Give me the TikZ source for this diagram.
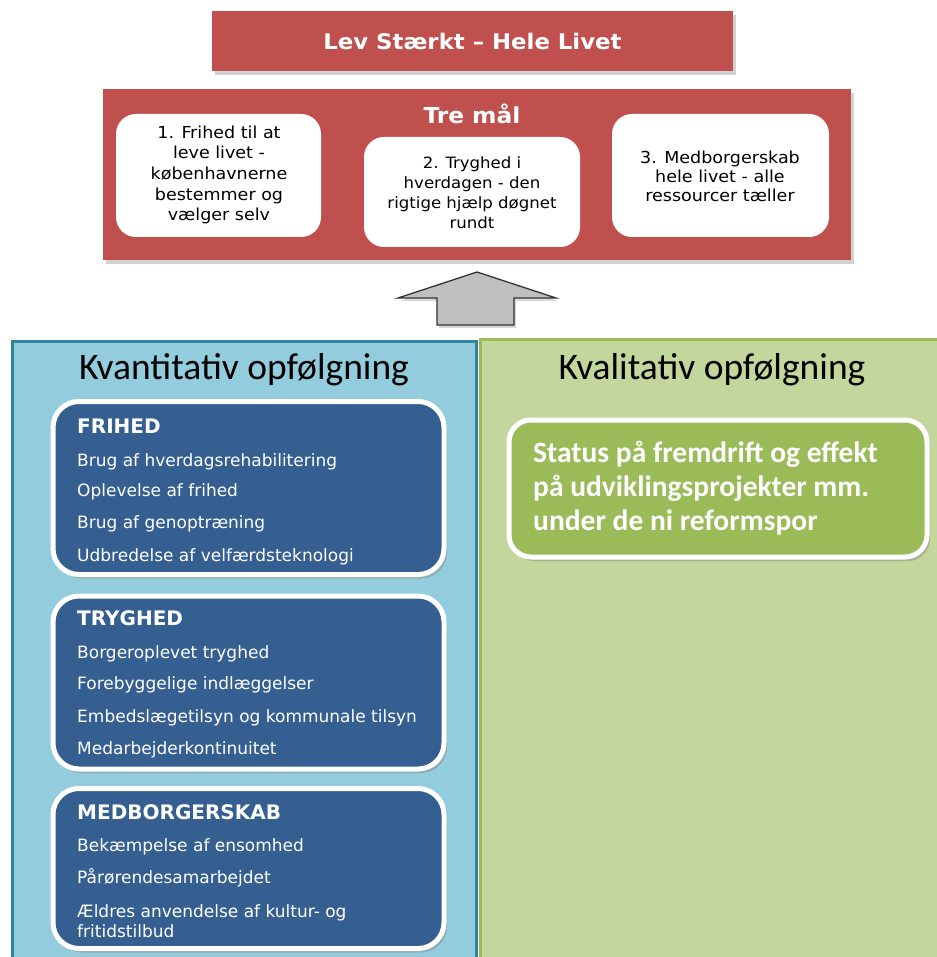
\documentclass[tikz,border=0pt]{standalone}
\usepackage{fontspec}
\setmainfont{DejaVu Sans}
\newfontfamily\condfont{DejaVu Sans Condensed}[FakeStretch=1.18]
\newfontfamily\calfont{Carlito}
\usetikzlibrary{shadows}
\definecolor{redA}{HTML}{C0504D}
\definecolor{blueFill}{HTML}{93CDDD}
\definecolor{blueLine}{HTML}{31849B}
\definecolor{greenFill}{HTML}{C3D69B}
\definecolor{greenLine}{HTML}{9BBB59}
\definecolor{navy}{HTML}{365F91}
\definecolor{arrowGray}{HTML}{BFBFBF}
\tikzset{
  redbox/.style={fill=redA, draw=none, drop shadow={shadow xshift=3pt, shadow yshift=-4pt, fill=black!35}},
  goalbox/.style={fill=white, draw=none, rounded corners=20pt},
  goaltext/.style={font=\condfont\fontsize{16.5}{20.7}\selectfont, align=center, text=black},
  panelA/.style={fill=blueFill, draw=blueLine, line width=3pt},
  panelB/.style={fill=greenFill, draw=greenLine, line width=3pt},
  listbox/.style={fill=navy, draw=white, line width=5pt, rounded corners=26pt, drop shadow={shadow xshift=3pt, shadow yshift=-4pt, fill=black!45}},
  listhead/.style={anchor=west, text=white, font=\fontsize{20}{22}\selectfont\bfseries, inner sep=0pt},
  listitem/.style={anchor=west, text=white, font=\fontsize{17}{20}\selectfont, inner sep=0pt},
  panelhead/.style={font=\calfont\fontsize{37.5}{40}\selectfont, text=black},
}
\begin{document}
\begin{tikzpicture}[x=1pt,y=-1pt]
\useasboundingbox (0,0) rectangle (936,957);
\fill[white] (0,0) rectangle (936,957);
% top title
\node[redbox, minimum width=521pt, minimum height=60pt, text=white, font=\condfont\fontsize{21.5}{26}\selectfont\bfseries] (title) at (472.5,41) {Lev Stærkt~– Hele Livet};
% goals box
\node[redbox, minimum width=748pt, minimum height=171pt] (goals) at (477,174.5) {};
\node[text=white, font=\condfont\fontsize{22}{26}\selectfont\bfseries] (tremaal) at (472,114) {Tre mål};
\node[goalbox, minimum width=205pt, minimum height=123pt] (g1) at (218.5,175.5) {};
\node[goalbox, minimum width=216pt, minimum height=110pt] (g2) at (472,192) {};
\node[goalbox, minimum width=217pt, minimum height=123pt] (g3) at (720.5,175.5) {};
\node[goaltext] (g1t) at (219,175) {1. Frihed til at\\leve livet -\\københavnerne\\bestemmer og\\vælger selv};
\node[goaltext, font=\condfont\fontsize{15.6}{20}\selectfont] (g2t) at (472,193) {2. Tryghed i\\hverdagen - den\\rigtige hjælp døgnet\\rundt};
\node[goaltext, font=\condfont\fontsize{16.5}{19}\selectfont] (g3t) at (720,176) {3. Medborgerskab\\hele livet - alle\\ressourcer tæller};
% panels
\draw[panelA] (12.5,341.5) rectangle (476,962);
\draw[panelB] (480.5,339.5) rectangle (945,962);
% arrow
\draw[fill=arrowGray, draw=black!80, line width=1.3pt, line join=miter, drop shadow={shadow xshift=2pt, shadow yshift=-3pt, fill=black!30}]
  (477,272) -- (556,298) -- (514,298) -- (514,325) -- (437,325) -- (437,298) -- (398,298) -- cycle;
\node[panelhead] (kvant) at (244,370) {Kvantitativ opfølgning};
\node[panelhead] (kval) at (712,370) {Kvalitativ opfølgning};
% list boxes
\node[listbox, minimum width=391pt, minimum height=173pt] (frihed) at (248.5,488) {};
\node[listbox, minimum width=391pt, minimum height=173pt] (tryghed) at (248.5,682.5) {};
\node[listbox, minimum width=391pt, minimum height=160pt] (medborg) at (248.5,868.5) {};
\node[listhead] (h1) at (77,426) {FRIHED};
\node[listitem] (i11) at (77,462) {Brug af hverdagsrehabilitering};
\node[listitem] (i12) at (77,492) {Oplevelse af frihed};
\node[listitem] (i13) at (77,524) {Brug af genoptræning};
\node[listitem] (i14) at (77,557) {Udbredelse af velfærdsteknologi};
\node[listhead] (h2) at (77,618) {TRYGHED};
\node[listitem] (i21) at (77,654) {Borgeroplevet tryghed};
\node[listitem] (i22) at (77,685) {Forebyggelige indlæggelser};
\node[listitem] (i23) at (77,718) {Embedslægetilsyn og kommunale tilsyn};
\node[listitem] (i24) at (77,750) {Medarbejderkontinuitet};
\node[listhead] (h3) at (77,812) {MEDBORGERSKAB};
\node[listitem] (i31) at (77,847) {Bekæmpelse af ensomhed};
\node[listitem] (i32) at (77,878) {Pårørendesamarbejdet};
\node[listitem, align=left] (i33) at (77,921) {Ældres anvendelse af kultur- og\\fritidstilbud};
% green box
\node[listbox, fill=greenLine, rounded corners=22pt, minimum width=418pt, minimum height=137pt] (status) at (718,488.5) {};
\node[anchor=west, inner sep=0pt, align=left, text=white, font=\calfont\fontsize{29.5}{34}\selectfont\bfseries] (statust) at (533,488) {Status på fremdrift og effekt\\på udviklingsprojekter mm.\\under de ni reformspor};
\end{tikzpicture}
\end{document}
